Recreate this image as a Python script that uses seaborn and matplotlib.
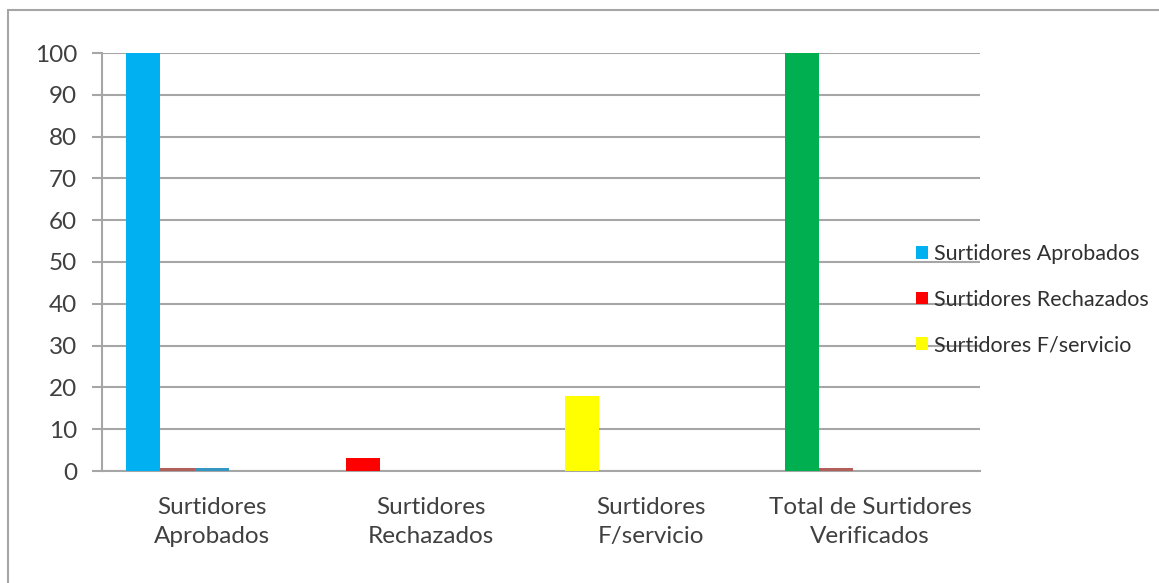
import pandas as pd
import matplotlib.pyplot as plt
import seaborn as sns
from matplotlib.patches import Patch, Rectangle

categorias = ["Surtidores\nAprobados", "Surtidores\nRechazados",
              "Surtidores\nF/servicio", "Total de Surtidores\nVerificados"]
serie_1 = [100, 3, 18, 100]
serie_2 = [0.8, 0, 0, 0.8]
serie_3 = [0.8, 0, 0, 0]
serie_4 = [0, 0, 0, 0]
serie_5 = [0, 0, 0, 0]
colores_1 = ["#00b0f0", "#ff0000", "#ffff00", "#00b050"]
leyenda = ["Surtidores Aprobados", "Surtidores Rechazados", "Surtidores F/servicio"]
colores_leyenda = ["#00b0f0", "#ff0000", "#ffff00"]

series = [serie_1, serie_2, serie_3, serie_4, serie_5]
filas = []
for i, s in enumerate(series):
    for c, v in zip(categorias, s):
        filas.append({"cat": c, "serie": "s%d" % (i + 1), "valor": v})
a = pd.DataFrame(filas)

sns.set_style("white")
plt.rcParams["font.family"] = ["Lato", "DejaVu Sans"]

fig = plt.figure(figsize=(11.59, 5.83), dpi=100)
ax = fig.add_axes([102/1159, 1-471/583, 878/1159, 418/583])

sns.barplot(data=a, x="cat", y="valor", hue="serie", order=categorias,
            palette=["#00b0f0", "#c0504d", "#1e9fd8", "#4f81bd", "#9bbb59"],
            width=0.78, linewidth=0, legend=False, ax=ax, zorder=3)

# first series: colour varies by category
for p, col in zip(ax.patches[:4], colores_1):
    p.set_facecolor(col)

ax.set_ylim(0, 100)
ax.set_xlim(-0.5, 3.5)
ax.set_yticks(range(0, 101, 10))
ax.yaxis.grid(True, color="#a6a6a6", lw=1.5, zorder=0)
ax.set_axisbelow(True)
ax.set_xlabel("")
ax.set_ylabel("")
for s in ["top", "right"]:
    ax.spines[s].set_visible(False)
for s in ["left", "bottom"]:
    ax.spines[s].set_color("#a6a6a6")
    ax.spines[s].set_linewidth(1.5)

ax.set_xticks([-0.5, 0.5, 1.5, 2.5, 3.5], minor=True)
ax.tick_params(axis="x", which="minor", length=8, width=1.5, color="#a6a6a6", direction="out")
ax.tick_params(axis="x", which="major", length=0, pad=19, labelsize=17.5, labelcolor="#404040")
ax.tick_params(axis="y", length=7, width=1.5, color="#a6a6a6", direction="out", pad=11,
               labelsize=17.5, labelcolor="#404040", left=True)
for t in ax.get_xticklabels():
    t.set_linespacing(1.42)

handles = [Patch(facecolor=c, edgecolor="none") for c in colores_leyenda]
ax.legend(handles, leyenda, loc="center left", bbox_to_anchor=(0.905, 0.41),
          frameon=False, fontsize=15.5, handlelength=0.55, handleheight=0.55,
          handletextpad=0.3, labelspacing=1.2, labelcolor="#303030")

fig.add_artist(Rectangle((8/1159, -0.1), 1.2, 1 - 10/583 + 0.1, transform=fig.transFigure,
                         fill=False, edgecolor="#a6a6a6", lw=1.5))

fig.savefig("out.png", dpi=100)
